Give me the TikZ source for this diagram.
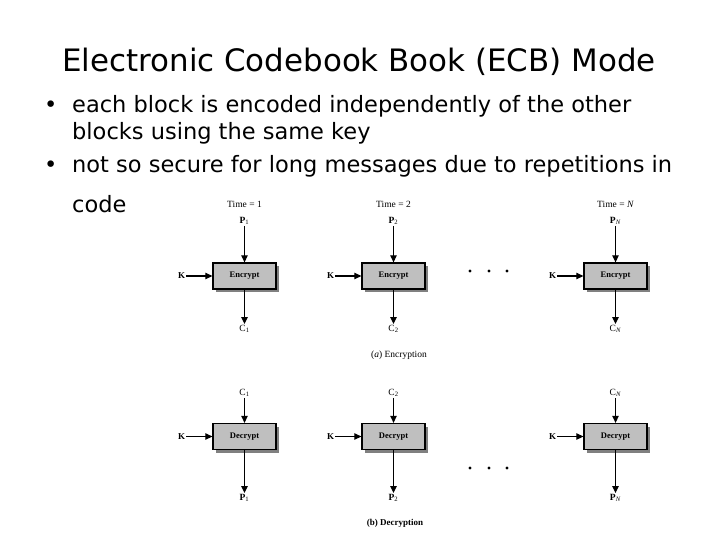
\documentclass[tikz,border=0pt]{standalone}
\usepackage{fontspec}
\setmainfont{Liberation Serif}
\newfontfamily\slidefont{DejaVu Sans}
\usetikzlibrary{arrows.meta,positioning,shadows}

\tikzset{
  cipher/.style={draw, line width=1.3pt, fill=black!25, minimum width=63pt, minimum height=26pt,
    inner sep=0pt, font=\bfseries\fontsize{8.5}{10}\selectfont,
    drop shadow={shadow xshift=3pt, shadow yshift=-3pt, fill=black!50, opacity=1}},
  flow/.style={line width=1.2pt, -{Triangle[length=7pt,width=6.5pt]}},
  tag/.style={font=\fontsize{9.5}{11}\selectfont, inner sep=1pt},
  slide/.style={font=\slidefont\fontsize{22.5}{26}\selectfont, anchor=base west, inner sep=0pt}
}

\begin{document}
\begin{tikzpicture}[x=1pt,y=-1pt]
    \useasboundingbox (0,0) rectangle (720,540);
    % slide text
    \node[font=\slidefont\fontsize{30.9}{36}\selectfont, anchor=base] (title) at (359,72) {Electronic Codebook Book (ECB) Mode};
    \node[slide] (dot1) at (44,113) {•};
    \node[slide] (line1) at (72,113) {each block is encoded independently of the other};
    \node[slide] (line2) at (72,140) {blocks using the same key};
    \node[slide] (dot2) at (44,173) {•};
    \node[slide] (line3) at (72,173) {not so secure for long messages due to repetitions in};
    \node[slide] (line4) at (72,212) {code};
    % (a) encryption
    \foreach \i/\x/\t/\s in {1/244.5/1/1, 2/393.5/2/2, 3/615.5/\textit{N}/\textit{N}} {
        \node[cipher] (enc\i) at (\x,276) {Encrypt};
        \node[tag] (time\i) at (\x,204) {Time = \t};
        \node[tag] (pin\i) at (\x,221) {\textbf{P}\textsubscript{\s}};
        \node[tag] (cout\i) at (\x,329) {C\textsubscript{\s}};
        \node[tag, font=\bfseries\fontsize{9}{10}\selectfont, left=26pt of enc\i] (kenc\i) {K};
        \draw[flow] (pin\i) -- (enc\i);
        \draw[flow] (kenc\i) -- (enc\i);
        \draw[flow] (enc\i) -- (cout\i);
    }
    \node[tag] (enccap) at (399,355) {(\textit{a}) Encryption};
    % (b) decryption
    \foreach \i/\x/\s in {1/244.5/1, 2/393.5/2, 3/615.5/\textit{N}} {
        \node[cipher] (dec\i) at (\x,436.5) {Decrypt};
        \node[tag] (cin\i) at (\x,393) {C\textsubscript{\s}};
        \node[tag] (pout\i) at (\x,498) {\textbf{P}\textsubscript{\s}};
        \node[tag, font=\bfseries\fontsize{9}{10}\selectfont, left=26pt of dec\i] (kdec\i) {K};
        \draw[flow] (cin\i) -- (dec\i);
        \draw[flow] (kdec\i) -- (dec\i);
        \draw[flow] (dec\i) -- (pout\i);
    }
    \node[tag, font=\bfseries\fontsize{9}{10}\selectfont] (deccap) at (395,523) {(b) Decryption};
    % dots between the columns
    \foreach \dx in {470,489,507} {
        \fill (\dx,271) circle (1.7);
        \fill (\dx,468) circle (1.7);
    }
\end{tikzpicture}
\end{document}
